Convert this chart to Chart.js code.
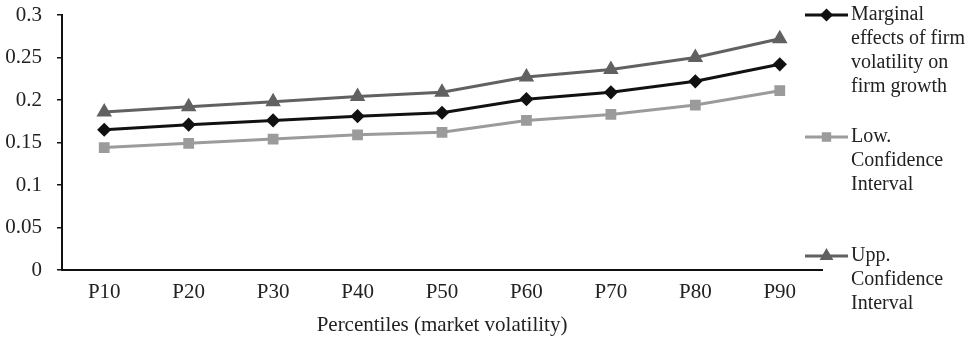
<!DOCTYPE html>
<html>
<head>
<meta charset="utf-8">
<script src="https://cdn.jsdelivr.net/npm/chart.js@4"></script>
<style>
  html, body { margin: 0; padding: 0; background: #fff; }
  #wrap { width: 969px; height: 339px; }
</style>
</head>
<body>
<div id="wrap"><canvas id="chart" width="969" height="339"></canvas></div>
<script>
// ----------------- data -----------------
const categories = ['P10','P20','P30','P40','P50','P60','P70','P80','P90'];
const marginal = [0.165, 0.171, 0.176, 0.181, 0.185, 0.201, 0.209, 0.222, 0.242];
const lowCI    = [0.144, 0.149, 0.154, 0.159, 0.162, 0.176, 0.183, 0.194, 0.211];
const uppCI    = [0.186, 0.192, 0.198, 0.204, 0.209, 0.227, 0.236, 0.250, 0.272];
const legendLines = [
  ['Marginal', 'effects of firm', 'volatility on', 'firm growth'],
  ['Low.', 'Confidence', 'Interval'],
  ['Upp.', 'Confidence', 'Interval']
];
const yTicks = [0, 0.05, 0.1, 0.15, 0.2, 0.25, 0.3];

const FONT = "'Liberation Serif', 'Times New Roman', serif";

// ----------------- legend on the right, multi-line -----------------
const sideLegend = {
  id: 'sideLegend',
  afterDraw(chart) {
    const ctx = chart.ctx;
    const tops = [15, 137, 256];   // first line centre of each item
    const lineH = 24;
    const x0 = 805, x1 = 848;
    const sizes = [4.5, 4.5, 5];
    ctx.save();
    chart.data.datasets.forEach((ds, i) => {
      const y = tops[i];
      ctx.strokeStyle = ds.borderColor;
      ctx.lineWidth = ds.borderWidth;
      ctx.beginPath();
      ctx.moveTo(x0, y);
      ctx.lineTo(x1, y);
      ctx.stroke();
      ctx.fillStyle = ds.pointBackgroundColor;
      ctx.strokeStyle = ds.pointBorderColor;
      Chart.helpers.drawPoint(ctx, {
        pointStyle: ds.pointStyle,
        radius: sizes[i],
        borderWidth: 1,
        rotation: 0
      }, (x0 + x1) / 2, y);
      ctx.fillStyle = '#222';
      ctx.font = '20px ' + FONT;
      ctx.textBaseline = 'middle';
      ctx.textAlign = 'left';
      legendLines[i].forEach((t, k) => ctx.fillText(t, 851, y + k * lineH));
    });
    ctx.restore();
  }
};

const ctx = document.getElementById('chart').getContext('2d');
new Chart(ctx, {
  type: 'line',
  data: {
    labels: categories,
    datasets: [
      {
        label: legendLines[0].join(' '),
        data: marginal,
        borderColor: '#111111',
        backgroundColor: '#111111',
        pointBackgroundColor: '#111111',
        pointBorderColor: '#111111',
        borderWidth: 3,
        pointStyle: 'rectRot',
        pointRadius: 5
      },
      {
        label: legendLines[1].join(' '),
        data: lowCI,
        borderColor: '#9b9b9b',
        backgroundColor: '#9b9b9b',
        pointBackgroundColor: '#9b9b9b',
        pointBorderColor: '#9b9b9b',
        borderWidth: 3,
        pointStyle: 'rect',
        pointRadius: 5.5
      },
      {
        label: legendLines[2].join(' '),
        data: uppCI,
        borderColor: '#616161',
        backgroundColor: '#616161',
        pointBackgroundColor: '#616161',
        pointBorderColor: '#616161',
        borderWidth: 3,
        pointStyle: 'triangle',
        pointRadius: 6
      }
    ]
  },
  options: {
    responsive: false,
    animation: false,
    layout: { padding: { top: 15, right: 147, bottom: 0, left: 0 } },
    plugins: {
      legend: { display: false },
      tooltip: { enabled: false }
    },
    scales: {
      x: {
        offset: true,
        grid: { display: false, drawTicks: false },
        border: { color: '#111', width: 2 },
        ticks: {
          color: '#222',
          padding: 10,
          font: { family: FONT, size: 21 }
        },
        title: {
          display: true,
          text: 'Percentiles (market volatility)',
          color: '#222',
          font: { family: FONT, size: 21 },
          padding: { top: 0, bottom: 1 }
        },
        afterFit(scale) {
          scale.height = 69;
          scale.paddingLeft = 0;
          scale.paddingRight = 0;
        }
      },
      y: {
        min: 0,
        max: 0.3,
        afterBuildTicks(scale) { scale.ticks = yTicks.map(v => ({ value: v })); },
        grid: {
          drawOnChartArea: false,
          drawTicks: true,
          tickLength: 5,
          color: '#111',
          lineWidth: 1.5
        },
        border: { color: '#111', width: 2 },
        ticks: {
          color: '#222',
          padding: 15,
          font: { family: FONT, size: 21 },
          callback: v => String(v)
        },
        afterFit(scale) {
          scale.width = 62;
          scale.paddingTop = 0;
          scale.paddingBottom = 0;
        }
      }
    }
  },
  plugins: [sideLegend]
});
</script>
</body>
</html>
